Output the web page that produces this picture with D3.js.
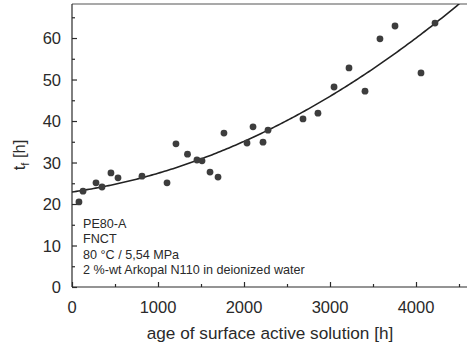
<!DOCTYPE html>
<html>
<head>
<meta charset="utf-8">
<script src="https://cdn.jsdelivr.net/npm/d3@7"></script>
<style>
  html, body { margin: 0; padding: 0; background: #fff; }
  svg { display: block; font-family: "Liberation Sans", Arial, sans-serif; }
</style>
</head>
<body>
<svg id="chart" width="467" height="349"></svg>
<script>
// Measured time to failure vs. age of the surfactant solution
const ageHours = [81, 128, 279, 349, 453, 535, 814, 1105, 1209, 1343, 1453, 1512, 1605, 1698,
  1767, 2035, 2105, 2221, 2279, 2686, 2860, 3047, 3221, 3407, 3581, 3756, 4058, 4221];
const failureHours = [20.5, 23.1, 25.1, 24.1, 27.5, 26.3, 26.7, 25.1, 34.5, 32.0, 30.6, 30.4, 27.7, 26.5,
  37.1, 34.7, 38.6, 34.9, 37.8, 40.5, 41.9, 48.2, 52.8, 47.2, 59.8, 62.9, 51.6, 63.6];

// Quadratic regression t_f = a + b*age + c*age^2
const fitCoefficients = [22.9, 0.002917, 1.589e-6];

const xTicks = [0, 1000, 2000, 3000, 4000];
const yTicks = [0, 10, 20, 30, 40, 50, 60];

const annotationLines = [
  "PE80-A",
  "FNCT",
  "80 \u00B0C / 5,54 MPa",
  "2 %-wt Arkopal N110 in deionized water"
];

const svg = d3.select("#chart");
const plotLeft = 72, plotRight = 467.6, plotTop = 4, plotBottom = 287;
const ink = "#2a2a2a";

const x = d3.scaleLinear().domain([0, 4600]).range([plotLeft, plotRight]);
const y = d3.scaleLinear().domain([0, 68.2]).range([plotBottom, plotTop]);

svg.append("defs").append("clipPath").attr("id", "plotArea")
  .append("rect").attr("x", plotLeft).attr("y", plotTop)
  .attr("width", plotRight - plotLeft).attr("height", plotBottom - plotTop);

// frame: top line
svg.append("line").attr("x1", plotLeft).attr("x2", 467).attr("y1", plotTop).attr("y2", plotTop)
  .attr("stroke", "#555").attr("stroke-width", 1.2);

// x axis with inward ticks
const xAxis = svg.append("g").attr("transform", `translate(0,${plotBottom})`)
  .call(d3.axisTop(x).tickValues(d3.range(0, 4600, 500)).tickSize(3).tickFormat(""));
xAxis.selectAll(".tick line").filter(d => d % 1000 === 0).attr("y2", -5);
xAxis.select(".domain").attr("d", `M${plotLeft},0H467`);
xAxis.selectAll("path, line").attr("stroke", ink).attr("stroke-width", 1.2);

svg.append("g").selectAll("text").data(xTicks).join("text")
  .attr("x", d => x(d)).attr("y", 313)
  .attr("text-anchor", "middle").attr("font-size", 16.5).attr("fill", ink)
  .text(d => d);

// y axis with inward ticks
const yAxis = svg.append("g").attr("transform", `translate(${plotLeft},0)`)
  .call(d3.axisRight(y).tickValues(d3.range(0, 68, 5)).tickSize(3).tickFormat(""));
yAxis.selectAll(".tick line").filter(d => d % 10 === 0).attr("x2", 5);
yAxis.select(".domain").attr("d", `M0,${plotTop}V${plotBottom}`);
yAxis.selectAll("path, line").attr("stroke", ink).attr("stroke-width", 1.2);

svg.append("g").selectAll("text").data(yTicks).join("text")
  .attr("x", 61).attr("y", d => y(d) + 6)
  .attr("text-anchor", "end").attr("font-size", 16.5).attr("fill", ink)
  .text(d => d);

// axis titles
svg.append("text").attr("x", 270).attr("y", 339).attr("text-anchor", "middle")
  .attr("font-size", 17.2).attr("fill", ink).text("age of surface active solution [h]");

const yTitle = svg.append("text").attr("transform", "translate(25,155) rotate(-90)")
  .attr("text-anchor", "middle").attr("font-size", 16.5).attr("fill", ink);
yTitle.append("tspan").text("t");
yTitle.append("tspan").attr("font-size", 11).attr("dy", 4).text("f");
yTitle.append("tspan").attr("dy", -4).text(" [h]");

// fitted curve
const fit = a => fitCoefficients[0] + fitCoefficients[1] * a + fitCoefficients[2] * a * a;
const curveAges = d3.range(0, 4601, 25);
svg.append("path").datum(curveAges)
  .attr("clip-path", "url(#plotArea)")
  .attr("fill", "none").attr("stroke", "#222").attr("stroke-width", 1.6)
  .attr("d", d3.line().x(d => x(d)).y(d => y(fit(d))));

// data points
svg.append("g").selectAll("circle").data(ageHours).join("circle")
  .attr("cx", d => x(d)).attr("cy", (d, i) => y(failureHours[i]))
  .attr("r", 3.4).attr("fill", "#3d3d3d");

// test conditions
svg.append("g").selectAll("text").data(annotationLines).join("text")
  .attr("x", 83).attr("y", (d, i) => 228 + i * 15.3)
  .attr("font-size", 12.6).attr("fill", ink)
  .text(d => d);
</script>
</body>
</html>
